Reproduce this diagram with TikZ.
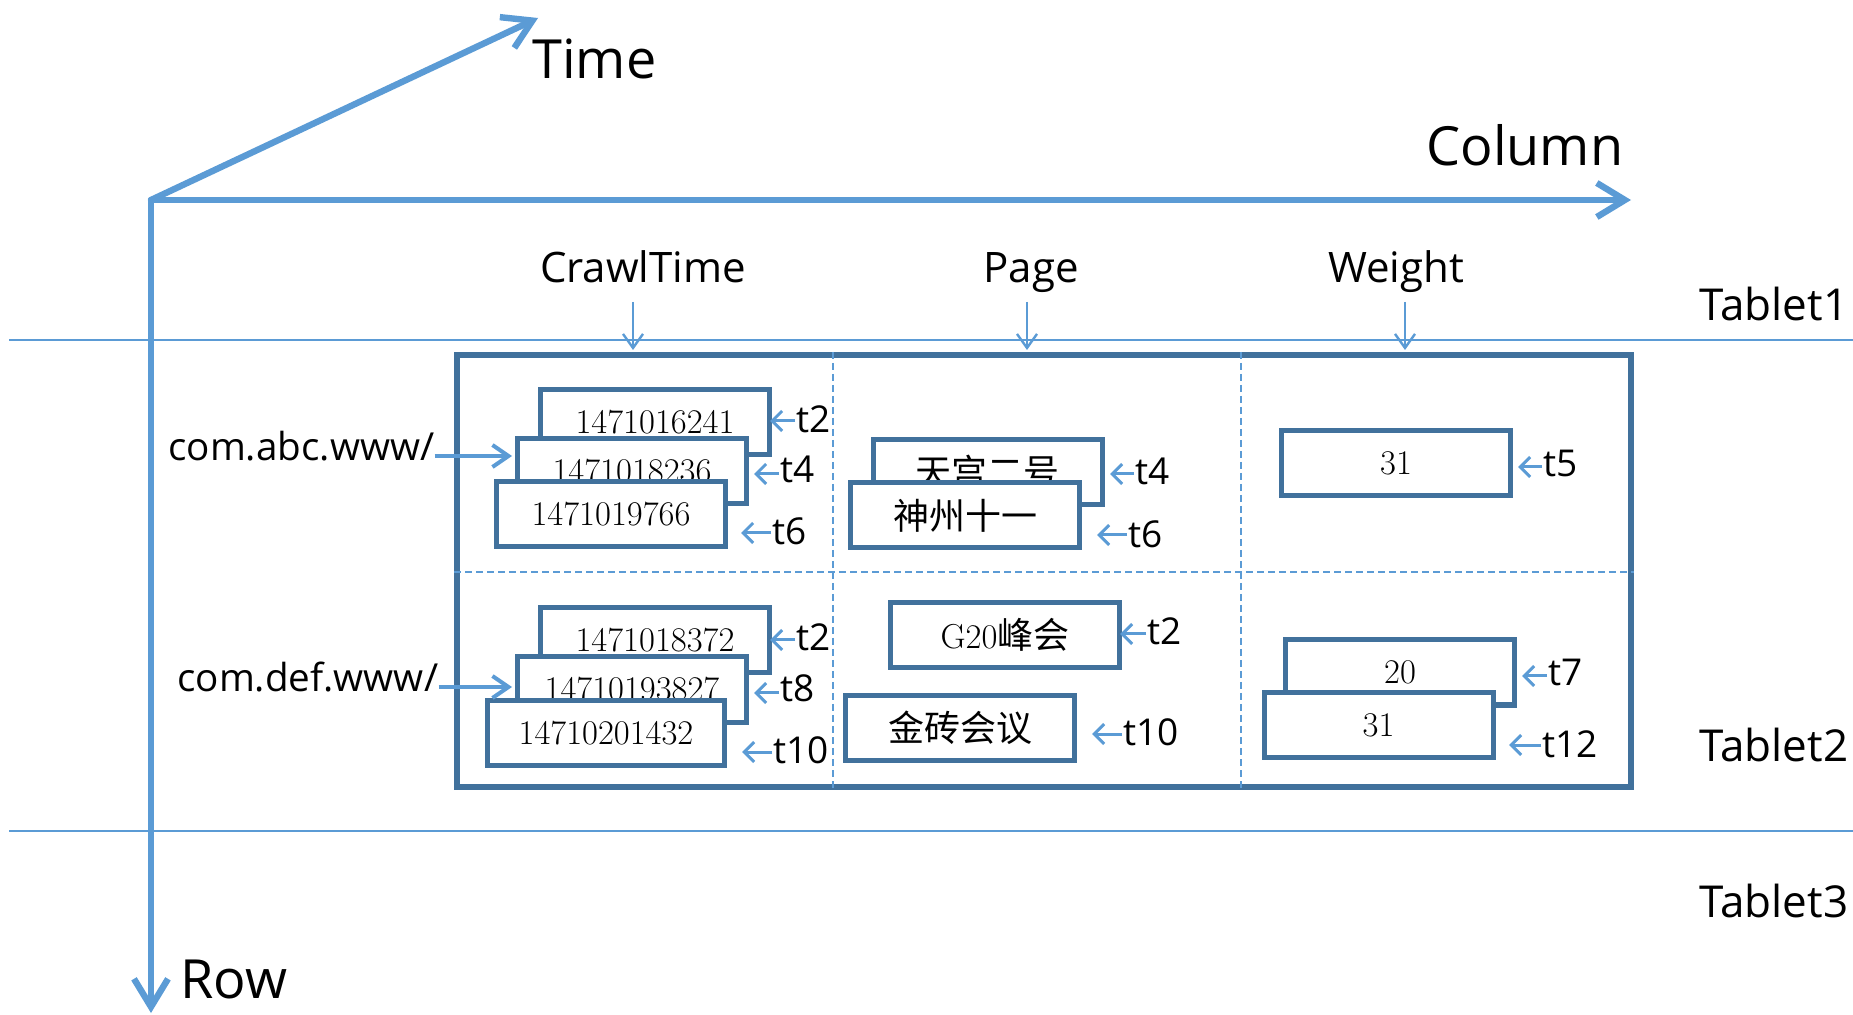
\documentclass[tikz,border=0pt]{standalone}
\usepackage{fontspec}
\newfontfamily\labfont{Open Sans}
\newfontfamily\cjkfont{Noto Sans CJK SC}
\usetikzlibrary{arrows.meta}
\definecolor{axisblue}{HTML}{5B9BD5}
\definecolor{boxblue}{HTML}{41719C}
\tikzset{
  axis/.style={draw=axisblue, line width=3.2pt, line cap=round,
    -{Straight Barb[length=14pt,width=17pt,line width=3.2pt]}},
  tabletline/.style={draw=axisblue, line width=0.8pt},
  gridline/.style={draw=axisblue, line width=0.8pt, dash pattern=on 3.5pt off 2pt},
  tablebox/.style={draw=boxblue, line width=2.6pt, minimum width=587pt,
    minimum height=216pt, inner sep=0pt},
  cell/.style={draw=boxblue, line width=2.5pt, fill=white, minimum width=114.5pt,
    minimum height=32.5pt, inner sep=0pt, font=\fontsize{17.3}{17.3}\selectfont},
  cjkcell/.style={cell, font=\cjkfont\fontsize{18}{18}\selectfont},
  tlab/.style={anchor=base west, inner sep=0pt, font=\labfont\fontsize{18.5}{18.5}\selectfont},
  tarr/.style={draw=axisblue, line width=1.5pt, shorten <=0.5pt,
    -{Straight Barb[length=5pt,width=10pt]}},
  harr/.style={draw=axisblue, line width=1.2pt,
    -{Straight Barb[length=7pt,width=10pt]}},
  rarr/.style={draw=axisblue, line width=2pt,
    -{Straight Barb[length=8pt,width=11pt]}},
  hdr/.style={anchor=base, inner sep=0pt, font=\labfont\fontsize{21}{21}\selectfont},
  rowkey/.style={anchor=base west, inner sep=0pt, font=\labfont\fontsize{19.3}{19.3}\selectfont},
  tabletlab/.style={anchor=base west, inner sep=0pt, font=\labfont\fontsize{22}{22}\selectfont},
  biglab/.style={anchor=base west, inner sep=0pt, font=\labfont\fontsize{27}{27}\selectfont},
}
\begin{document}
\begin{tikzpicture}[x=0.5pt,y=-0.5pt]
\useasboundingbox (0,0) rectangle (1853,1015);

% tablet boundaries
\draw[tabletline] (9,340) -- (1853,340);
\draw[tabletline] (9,831) -- (1853,831);

% axes
\coordinate (O) at (151,200);
\coordinate (timeEnd) at (538,18);
\coordinate (colEnd) at (1631,200);
\coordinate (rowEnd) at (151,1013);
\draw[axis] (O) -- (timeEnd);
\draw[axis] (O) -- (colEnd);
\draw[axis] (O) -- (rowEnd);
\node[biglab] (timeLab) at (532,79) {Time};
\node[biglab] (colLab) at (1426,166) {Column};
\node[biglab] (rowLab) at (180,998) {Row};

% tablet names
\node[tabletlab] (tab1) at (1699,321) {Tablet1};
\node[tabletlab] (tab2) at (1699,762) {Tablet2};
\node[tabletlab] (tab3) at (1699,917) {Tablet3};

% the table with its column and row separators
\node[tablebox] (tbl) at (1044,571) {};
\draw[gridline] (833,352) -- (833,790);
\draw[gridline] (1241,352) -- (1241,790);
\draw[gridline] (454,572) -- (1634,572);

% column headers
\node[hdr] (hCrawl) at (643,283) {CrawlTime};
\node[hdr] (hPage) at (1031,283) {Page};
\node[hdr] (hWeight) at (1396,283) {Weight};
\coordinate (cTop) at (633,302);   \coordinate (cTip) at (633,350);
\coordinate (pTop) at (1027,302);  \coordinate (pTip) at (1027,350);
\coordinate (wTop) at (1405,302);  \coordinate (wTip) at (1405,350);
\draw[harr] (cTop) -- (cTip);
\draw[harr] (pTop) -- (pTip);
\draw[harr] (wTop) -- (wTip);

% row keys
\node[rowkey] (keyAbc) at (168,461) {com.abc.www/};
\node[rowkey] (keyDef) at (177,691) {com.def.www/};

% CrawlTime versions, row 1
\node[cell] (a1) at (655,422) {1471016241};
\node[cell] (a2) at (632,471) {1471018236};
\node[cell] (a3) at (611,514) {1471019766};
% CrawlTime versions, row 2
\node[cell] (b1) at (655,640) {1471018372};
\node[cell] (b2) at (632,689.5) {14710193827};
\node[cell, minimum width=118.5pt] (b3) at (606,733) {14710201432};

% Page versions
\node[cjkcell] (p1) at (987.5,472) {天宫二号};
\node[cjkcell] (p2) at (965,515.5) {神州十一};
\node[cjkcell] (p3) at (1005,635) {{\rmfamily\fontsize{17.3}{17.3}\selectfont G20}峰会};
\node[cjkcell] (p4) at (960,728) {金砖会议};

% Weight versions
\node[cell] (w1) at (1396,463.5) {31};
\node[cell] (w2) at (1400,672.5) {20};
\node[cell] (w3) at (1378.5,725) {31};

% row key arrows
\coordinate (abcTip) at (512,456);
\coordinate (defTip) at (512,687);
\draw[rarr] (keyAbc.east |- abcTip) -- (abcTip);
\draw[rarr] (keyDef.east |- defTip) -- (defTip);

% timestamps
\foreach \nm/\txt/\tx/\ty/\ax/\ay in {
  ta2/t2/796/433/770/421, ta4/t4/780/483/754/474, ta6/t6/772/545/741/533,
  tb2/t2/796/651/770/640, tb8/t8/780/702/754/693, tb10/t10/773/763/742/752,
  tp4/t4/1135/485/1110/474, tp6/t6/1128/548/1097/535,
  tq2/t2/1147/645/1120/634, tq10/t10/1123/745/1092/734,
  tw5/t5/1543/477/1518/467, tw7/t7/1548/685/1522/676, tw12/t12/1542/757/1509/745}
{
  \node[tlab] (\nm) at (\tx,\ty) {\txt};
  \coordinate (\nm tip) at (\ax,\ay);
  \draw[tarr] (\nm.west |- \nm tip) -- (\nm tip);
}
\end{tikzpicture}
\end{document}
